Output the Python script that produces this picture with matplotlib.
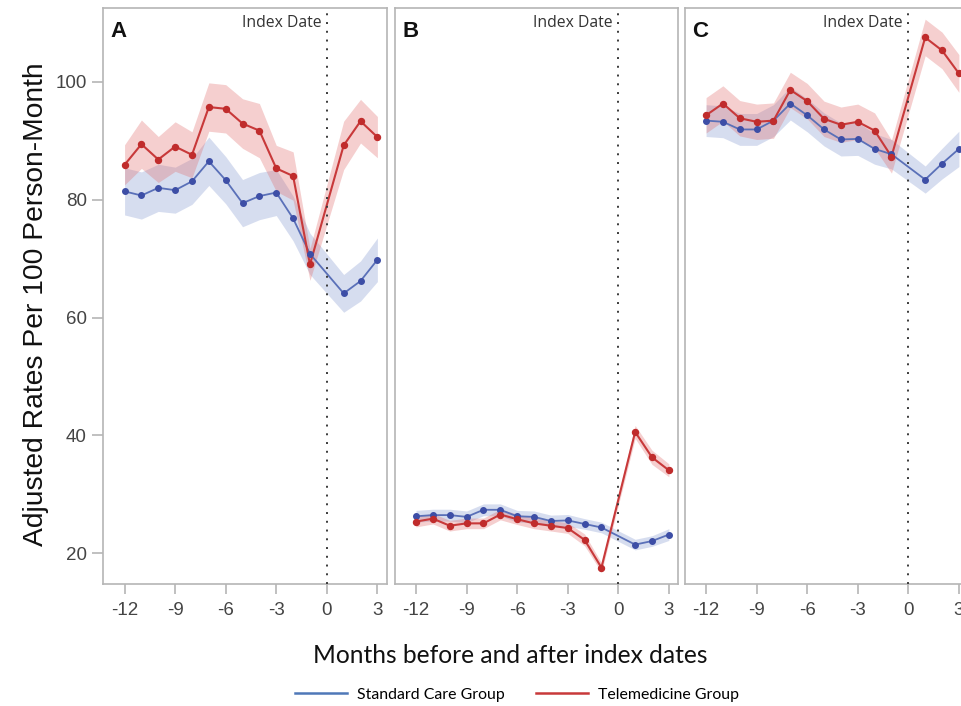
import matplotlib
matplotlib.use("Agg")
import matplotlib.pyplot as plt
from matplotlib.lines import Line2D
import numpy as np

# months relative to index date (no month 0)
months = [-12, -11, -10, -9, -8, -7, -6, -5, -4, -3, -2, -1, 1, 2, 3]
panel_labels = ["A", "B", "C"]

# standard care group (blue)
std_a = [81.4, 80.7, 82.0, 81.6, 83.1, 86.5, 83.3, 79.4, 80.6, 81.2, 76.8, 70.8, 64.1, 66.2, 69.8]
std_b = [26.3, 26.5, 26.5, 26.2, 27.4, 27.4, 26.3, 26.2, 25.5, 25.6, 25.0, 24.4, 21.5, 22.1, 23.2]
std_c = [93.4, 93.2, 91.9, 91.9, 93.4, 96.3, 94.3, 91.9, 90.2, 90.3, 88.6, 87.7, 83.4, 86.1, 88.6]
std_a_ci = [4.0, 4.0, 4.0, 3.9, 3.9, 4.1, 4.0, 4.0, 4.0, 3.9, 3.8, 3.5, 3.2, 3.4, 3.7]
std_b_ci = [1.0, 1.0, 1.0, 1.0, 1.0, 1.0, 1.0, 1.0, 1.0, 1.0, 0.9, 0.9, 0.9, 0.9, 1.0]
std_c_ci = [2.7, 2.7, 2.7, 2.7, 2.7, 2.8, 2.8, 2.8, 2.8, 2.8, 2.6, 2.5, 2.3, 2.6, 3.0]

# telemedicine group (red)
tele_a = [85.9, 89.4, 86.8, 89.0, 87.6, 95.7, 95.4, 92.9, 91.7, 85.3, 84.0, 69.0, 89.2, 93.3, 90.6]
tele_b = [25.4, 25.9, 24.7, 25.1, 25.1, 26.6, 25.8, 25.1, 24.7, 24.3, 22.3, 17.6, 40.6, 36.3, 34.1]
tele_c = [94.3, 96.3, 93.8, 93.2, 93.4, 98.6, 96.7, 93.7, 92.7, 93.2, 91.7, 87.3, 107.5, 105.3, 101.4]
tele_a_ci = [3.4, 4.1, 3.9, 4.2, 3.9, 4.1, 4.1, 4.2, 4.6, 3.9, 4.1, 2.7, 4.1, 3.7, 3.5]
tele_b_ci = [0.9, 0.9, 0.9, 0.9, 0.9, 0.9, 0.9, 0.9, 0.9, 0.9, 1.0, 0.8, 1.1, 1.2, 1.1]
tele_c_ci = [3.0, 3.0, 3.0, 3.0, 3.0, 3.0, 3.0, 3.0, 3.0, 3.0, 3.0, 2.8, 3.1, 3.1, 3.2]

std_series = [std_a, std_b, std_c]
std_cis = [std_a_ci, std_b_ci, std_c_ci]
tele_series = [tele_a, tele_b, tele_c]
tele_cis = [tele_a_ci, tele_b_ci, tele_c_ci]

blue_line = "#5a70b8"
blue_dot = "#3d4ea6"
blue_fill = "#6f86c8"
red_line = "#c8393a"
red_dot = "#c02c2c"
red_fill = "#e06a6a"
frame = "#b5b5b5"

fig = plt.figure(figsize=(9.61, 7.06), dpi=100)

lefts = [0.1077, 0.4110, 0.7128]
width = 0.2950
bottom = 0.1735
height = 0.8152

x = np.array(months)
for i, left in enumerate(lefts):
    ax = fig.add_axes([left, bottom, width, height])
    s = np.array(std_series[i])
    sc = np.array(std_cis[i])
    t = np.array(tele_series[i])
    tc = np.array(tele_cis[i])

    ax.fill_between(x, s - sc, s + sc, color=blue_fill, alpha=0.28, lw=0)
    ax.fill_between(x, t - tc, t + tc, color=red_fill, alpha=0.32, lw=0)
    ax.plot(x, s, color=blue_line, lw=1.3, zorder=3)
    ax.plot(x, s, "o", color=blue_dot, ms=4, zorder=4)
    ax.plot(x, t, color=red_line, lw=1.5, zorder=3)
    ax.plot(x, t, "o", color=red_dot, ms=4.3, zorder=4)

    ax.axvline(0, color="#3a3a3a", ls=(0, (1, 3.5)), lw=1.4, zorder=5)
    ax.annotate("Index Date", xy=(0, 1), xycoords=("data", "axes fraction"),
                xytext=(-4, -10.5), textcoords="offset points", ha="right", va="center",
                fontsize=11.3, color="#333333", family=["Open Sans", "DejaVu Sans"])
    ax.text(0.025, 0.978, panel_labels[i], transform=ax.transAxes, ha="left", va="top",
            fontsize=16, fontweight="bold", color="#111111",
            family=["Liberation Sans", "DejaVu Sans"])

    ax.set_xlim(-13.25, 3.57)
    ax.set_ylim(14.9, 112.5)
    ax.set_xticks([-12, -9, -6, -3, 0, 3])
    ax.set_xticklabels(["-12", "-9", "-6", "-3", "0", "3"])
    for sp in ax.spines.values():
        sp.set_color(frame)
        sp.set_linewidth(1.2)
    ax.tick_params(axis="x", colors=frame, length=7, width=1.2, pad=6,
                   labelcolor="#444444", labelsize=13.5)
    for lab in ax.get_xticklabels():
        lab.set_family(["Liberation Sans", "DejaVu Sans"])
    if i == 0:
        ax.set_yticks([20, 40, 60, 80, 100])
        ax.tick_params(axis="y", colors=frame, length=8, width=1.2, pad=4,
                       labelcolor="#444444", labelsize=13.5)
        for lab in ax.get_yticklabels():
            lab.set_family(["Liberation Sans", "DejaVu Sans"])
    else:
        ax.set_yticks([])

fig.text(0.037, 0.569, "Adjusted Rates Per 100 Person-Month", rotation=90,
         ha="center", va="center", fontsize=20.3, color="#111111",
         family=["Liberation Sans", "DejaVu Sans"])
fig.text(0.531, 0.072, "Months before and after index dates", ha="center", va="center",
         fontsize=17.7, color="#111111", family=["Lato", "DejaVu Sans"])

handles = [Line2D([0], [0], color="#4f78b8", lw=1.8),
           Line2D([0], [0], color="#c8393a", lw=1.8)]
fig.legend(handles, ["Standard Care Group", "Telemedicine Group"],
           loc="center", bbox_to_anchor=(0.538, 0.016), ncol=2, frameon=False,
           handlelength=3.3, columnspacing=2.0, handletextpad=0.6,
           prop={"family": ["Lato", "DejaVu Sans"], "size": 11.4})

fig.savefig("out.png", dpi=100)
